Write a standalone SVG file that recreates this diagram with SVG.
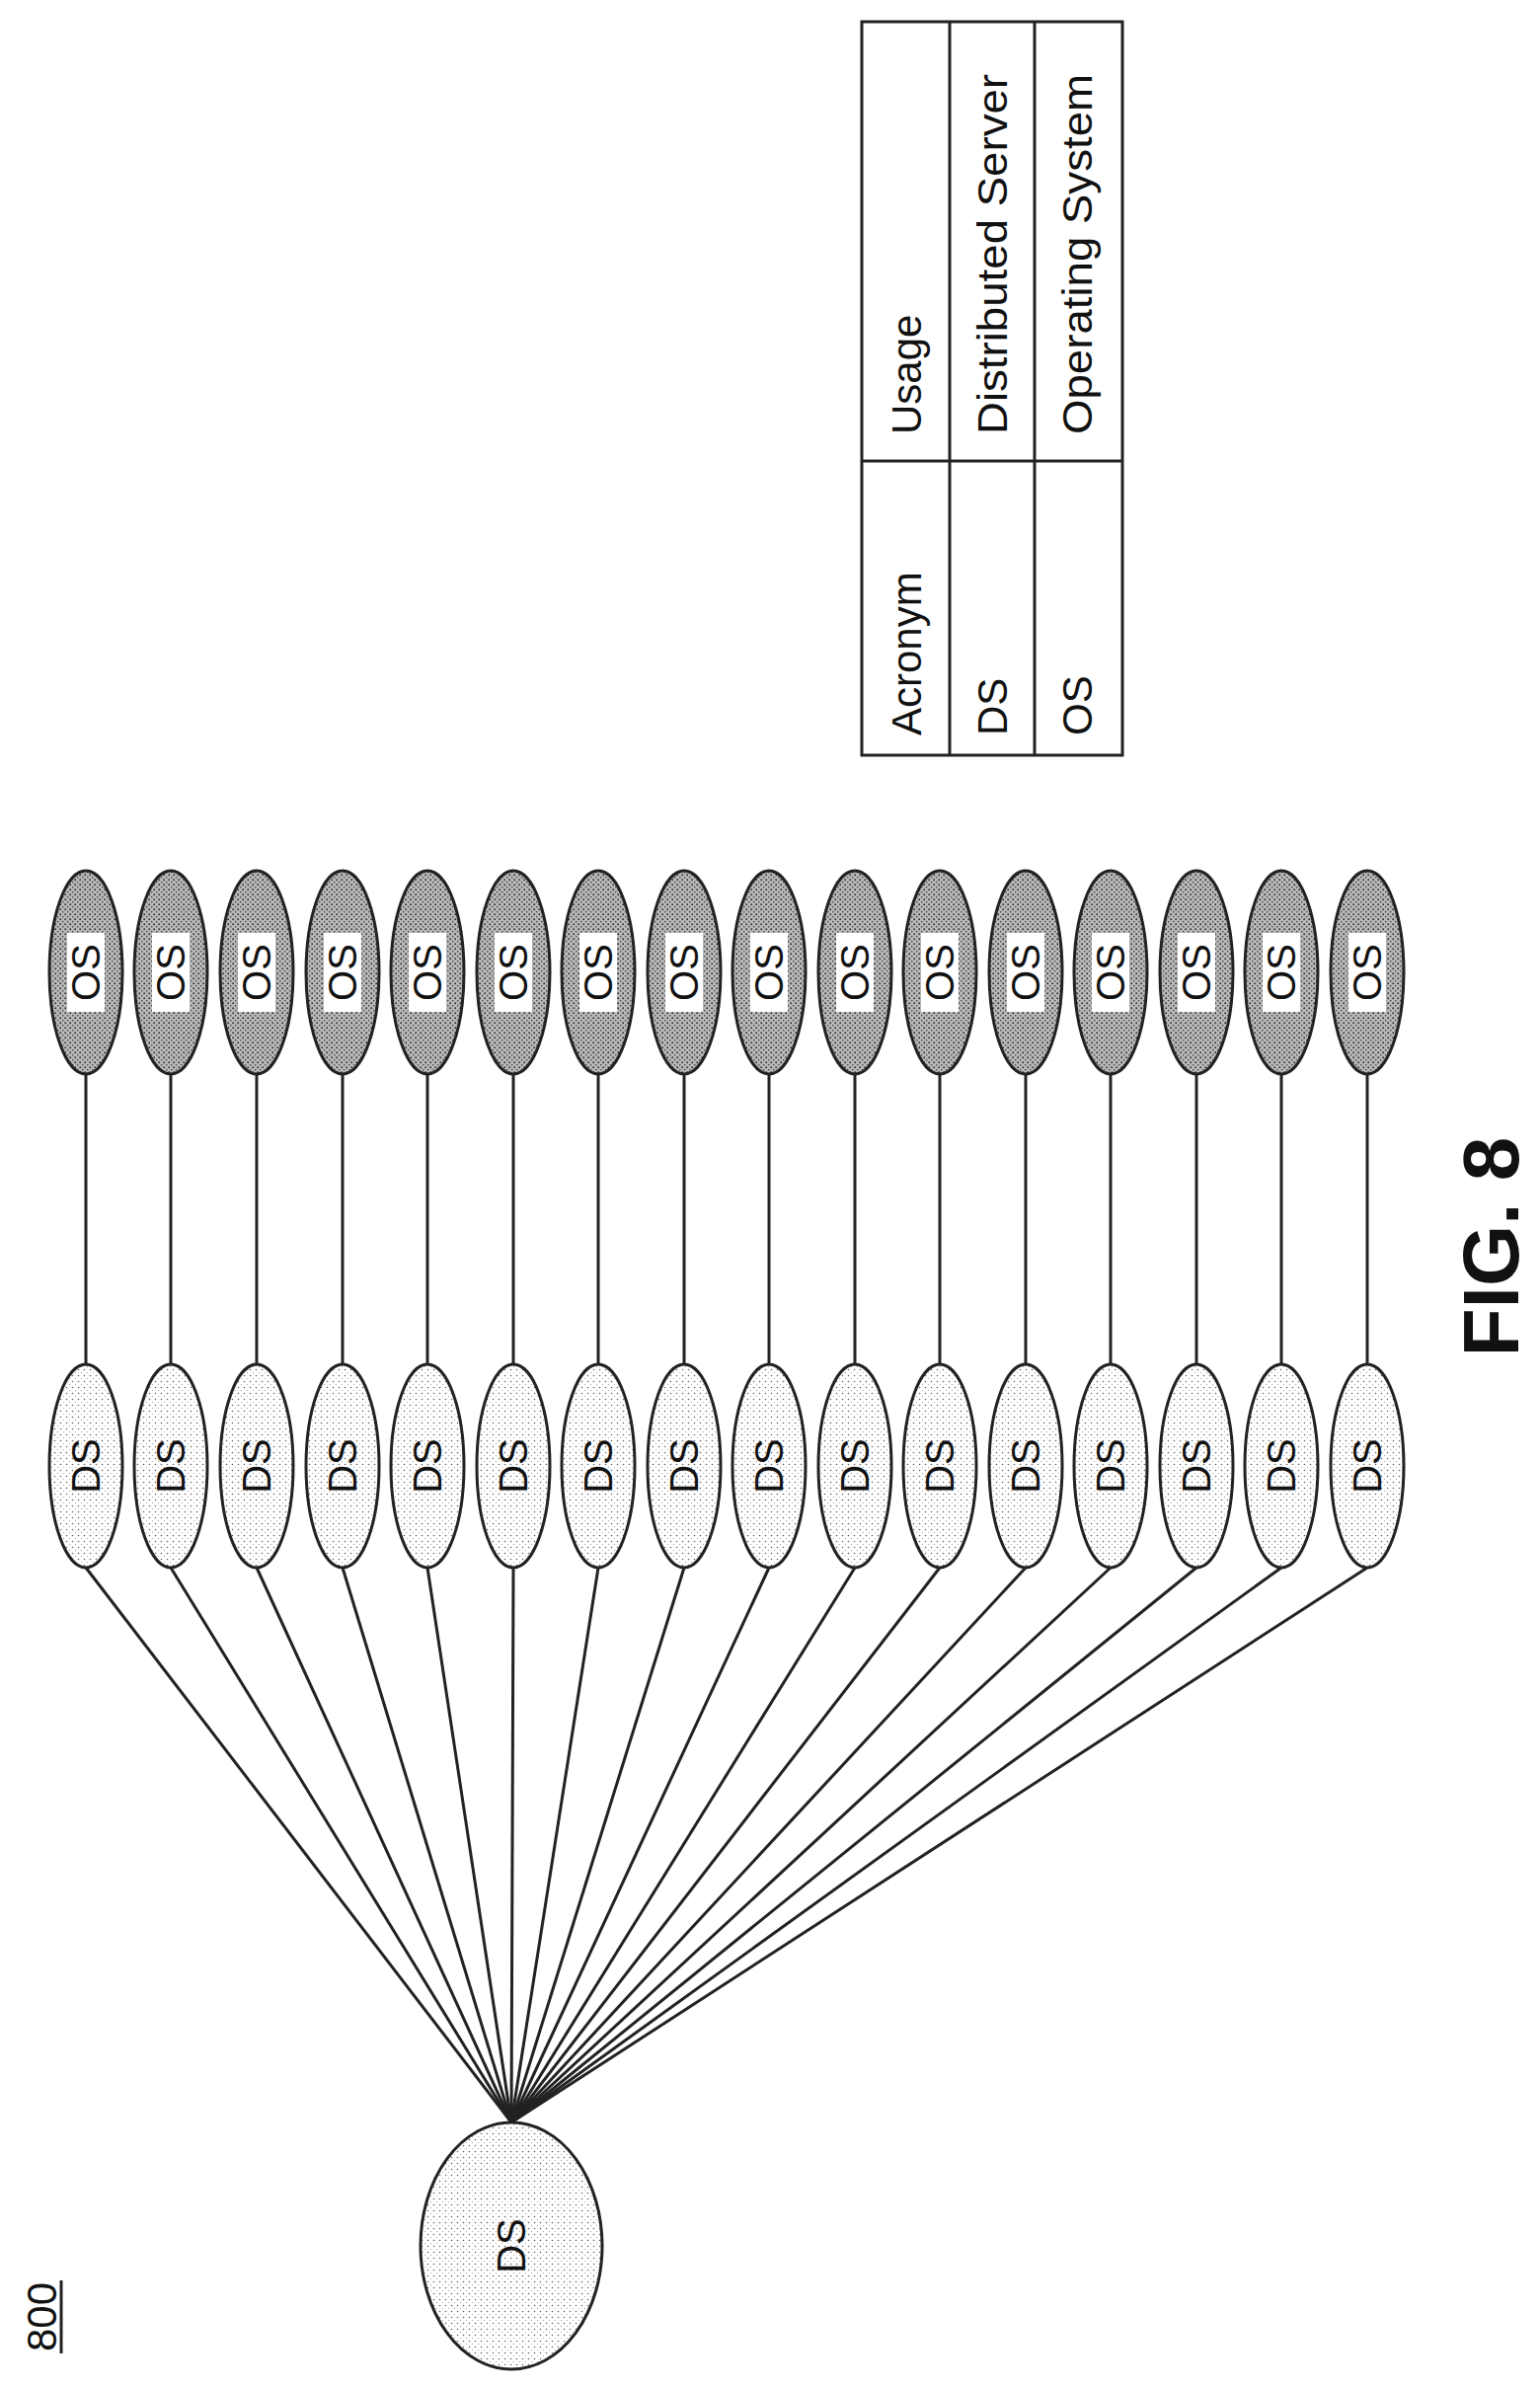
<svg xmlns="http://www.w3.org/2000/svg" width="1560" height="2419" viewBox="0 0 1560 2419">
<defs>
<pattern id="lt" width="6" height="6" patternUnits="userSpaceOnUse"><rect width="6" height="6" fill="#fff"/><circle cx="1.5" cy="1.5" r="0.8" fill="#666"/><circle cx="4.5" cy="4.5" r="0.6" fill="#999"/></pattern>
<pattern id="dk" width="5" height="5" patternUnits="userSpaceOnUse"><rect width="5" height="5" fill="#bbb"/><circle cx="1.2" cy="1.2" r="1" fill="#333"/><circle cx="3.7" cy="3.7" r="0.9" fill="#555"/></pattern>
<style>
.ds{fill:url(#lt);stroke:#222;stroke-width:3}
.os{fill:url(#dk);stroke:#222;stroke-width:3}
.t{font-family:"Liberation Sans",Arial,sans-serif;font-size:40px;fill:#111;text-anchor:middle;dominant-baseline:central}
.tb{font-family:"Liberation Sans",Arial,sans-serif;font-size:42px;fill:#111}
line,.ln{stroke:#222;stroke-width:3;fill:none}
</style>
</defs>
<g id="label800"><text class="tb" transform="rotate(-90 57 2347)" x="57" y="2347" text-anchor="middle" font-size="40">800</text><line x1="62" y1="2310" x2="62" y2="2384"/></g>
<g id="connectors">
<line x1="87" y1="1088" x2="87" y2="1382"/><line x1="173" y1="1088" x2="173" y2="1382"/><line x1="260" y1="1088" x2="260" y2="1382"/><line x1="347" y1="1088" x2="347" y2="1382"/><line x1="433" y1="1088" x2="433" y2="1382"/><line x1="520" y1="1088" x2="520" y2="1382"/><line x1="606" y1="1088" x2="606" y2="1382"/><line x1="693" y1="1088" x2="693" y2="1382"/><line x1="779" y1="1088" x2="779" y2="1382"/><line x1="866" y1="1088" x2="866" y2="1382"/><line x1="952" y1="1088" x2="952" y2="1382"/><line x1="1039" y1="1088" x2="1039" y2="1382"/><line x1="1125" y1="1088" x2="1125" y2="1382"/><line x1="1212" y1="1088" x2="1212" y2="1382"/><line x1="1298" y1="1088" x2="1298" y2="1382"/><line x1="1385" y1="1088" x2="1385" y2="1382"/>
<line x1="87" y1="1588" x2="518" y2="2150"/><line x1="173" y1="1588" x2="518" y2="2150"/><line x1="260" y1="1588" x2="518" y2="2150"/><line x1="347" y1="1588" x2="518" y2="2150"/><line x1="433" y1="1588" x2="518" y2="2150"/><line x1="520" y1="1588" x2="518" y2="2150"/><line x1="606" y1="1588" x2="518" y2="2150"/><line x1="693" y1="1588" x2="518" y2="2150"/><line x1="779" y1="1588" x2="518" y2="2150"/><line x1="866" y1="1588" x2="518" y2="2150"/><line x1="952" y1="1588" x2="518" y2="2150"/><line x1="1039" y1="1588" x2="518" y2="2150"/><line x1="1125" y1="1588" x2="518" y2="2150"/><line x1="1212" y1="1588" x2="518" y2="2150"/><line x1="1298" y1="1588" x2="518" y2="2150"/><line x1="1385" y1="1588" x2="518" y2="2150"/>
</g>
<g id="root"><ellipse class="ds" cx="518" cy="2275" rx="92" ry="125"/><text class="t" transform="rotate(-90 518 2275)" x="518" y="2275">DS</text></g>
<g id="ds-nodes">
<g id="ds1"><ellipse class="ds" cx="87" cy="1485" rx="37" ry="103"/><text class="t" transform="rotate(-90 87 1485)" x="87" y="1485">DS</text></g>
<g id="ds2"><ellipse class="ds" cx="173" cy="1485" rx="37" ry="103"/><text class="t" transform="rotate(-90 173 1485)" x="173" y="1485">DS</text></g>
<g id="ds3"><ellipse class="ds" cx="260" cy="1485" rx="37" ry="103"/><text class="t" transform="rotate(-90 260 1485)" x="260" y="1485">DS</text></g>
<g id="ds4"><ellipse class="ds" cx="347" cy="1485" rx="37" ry="103"/><text class="t" transform="rotate(-90 347 1485)" x="347" y="1485">DS</text></g>
<g id="ds5"><ellipse class="ds" cx="433" cy="1485" rx="37" ry="103"/><text class="t" transform="rotate(-90 433 1485)" x="433" y="1485">DS</text></g>
<g id="ds6"><ellipse class="ds" cx="520" cy="1485" rx="37" ry="103"/><text class="t" transform="rotate(-90 520 1485)" x="520" y="1485">DS</text></g>
<g id="ds7"><ellipse class="ds" cx="606" cy="1485" rx="37" ry="103"/><text class="t" transform="rotate(-90 606 1485)" x="606" y="1485">DS</text></g>
<g id="ds8"><ellipse class="ds" cx="693" cy="1485" rx="37" ry="103"/><text class="t" transform="rotate(-90 693 1485)" x="693" y="1485">DS</text></g>
<g id="ds9"><ellipse class="ds" cx="779" cy="1485" rx="37" ry="103"/><text class="t" transform="rotate(-90 779 1485)" x="779" y="1485">DS</text></g>
<g id="ds10"><ellipse class="ds" cx="866" cy="1485" rx="37" ry="103"/><text class="t" transform="rotate(-90 866 1485)" x="866" y="1485">DS</text></g>
<g id="ds11"><ellipse class="ds" cx="952" cy="1485" rx="37" ry="103"/><text class="t" transform="rotate(-90 952 1485)" x="952" y="1485">DS</text></g>
<g id="ds12"><ellipse class="ds" cx="1039" cy="1485" rx="37" ry="103"/><text class="t" transform="rotate(-90 1039 1485)" x="1039" y="1485">DS</text></g>
<g id="ds13"><ellipse class="ds" cx="1125" cy="1485" rx="37" ry="103"/><text class="t" transform="rotate(-90 1125 1485)" x="1125" y="1485">DS</text></g>
<g id="ds14"><ellipse class="ds" cx="1212" cy="1485" rx="37" ry="103"/><text class="t" transform="rotate(-90 1212 1485)" x="1212" y="1485">DS</text></g>
<g id="ds15"><ellipse class="ds" cx="1298" cy="1485" rx="37" ry="103"/><text class="t" transform="rotate(-90 1298 1485)" x="1298" y="1485">DS</text></g>
<g id="ds16"><ellipse class="ds" cx="1385" cy="1485" rx="37" ry="103"/><text class="t" transform="rotate(-90 1385 1485)" x="1385" y="1485">DS</text></g>
</g>
<g id="os-nodes">
<g id="os1"><ellipse class="os" cx="87" cy="985" rx="37" ry="103"/><rect x="68" y="945" width="38" height="80" fill="#fff"/><text class="t" transform="rotate(-90 87 985)" x="87" y="985">OS</text></g>
<g id="os2"><ellipse class="os" cx="173" cy="985" rx="37" ry="103"/><rect x="154" y="945" width="38" height="80" fill="#fff"/><text class="t" transform="rotate(-90 173 985)" x="173" y="985">OS</text></g>
<g id="os3"><ellipse class="os" cx="260" cy="985" rx="37" ry="103"/><rect x="241" y="945" width="38" height="80" fill="#fff"/><text class="t" transform="rotate(-90 260 985)" x="260" y="985">OS</text></g>
<g id="os4"><ellipse class="os" cx="347" cy="985" rx="37" ry="103"/><rect x="328" y="945" width="38" height="80" fill="#fff"/><text class="t" transform="rotate(-90 347 985)" x="347" y="985">OS</text></g>
<g id="os5"><ellipse class="os" cx="433" cy="985" rx="37" ry="103"/><rect x="414" y="945" width="38" height="80" fill="#fff"/><text class="t" transform="rotate(-90 433 985)" x="433" y="985">OS</text></g>
<g id="os6"><ellipse class="os" cx="520" cy="985" rx="37" ry="103"/><rect x="501" y="945" width="38" height="80" fill="#fff"/><text class="t" transform="rotate(-90 520 985)" x="520" y="985">OS</text></g>
<g id="os7"><ellipse class="os" cx="606" cy="985" rx="37" ry="103"/><rect x="587" y="945" width="38" height="80" fill="#fff"/><text class="t" transform="rotate(-90 606 985)" x="606" y="985">OS</text></g>
<g id="os8"><ellipse class="os" cx="693" cy="985" rx="37" ry="103"/><rect x="674" y="945" width="38" height="80" fill="#fff"/><text class="t" transform="rotate(-90 693 985)" x="693" y="985">OS</text></g>
<g id="os9"><ellipse class="os" cx="779" cy="985" rx="37" ry="103"/><rect x="760" y="945" width="38" height="80" fill="#fff"/><text class="t" transform="rotate(-90 779 985)" x="779" y="985">OS</text></g>
<g id="os10"><ellipse class="os" cx="866" cy="985" rx="37" ry="103"/><rect x="847" y="945" width="38" height="80" fill="#fff"/><text class="t" transform="rotate(-90 866 985)" x="866" y="985">OS</text></g>
<g id="os11"><ellipse class="os" cx="952" cy="985" rx="37" ry="103"/><rect x="933" y="945" width="38" height="80" fill="#fff"/><text class="t" transform="rotate(-90 952 985)" x="952" y="985">OS</text></g>
<g id="os12"><ellipse class="os" cx="1039" cy="985" rx="37" ry="103"/><rect x="1020" y="945" width="38" height="80" fill="#fff"/><text class="t" transform="rotate(-90 1039 985)" x="1039" y="985">OS</text></g>
<g id="os13"><ellipse class="os" cx="1125" cy="985" rx="37" ry="103"/><rect x="1106" y="945" width="38" height="80" fill="#fff"/><text class="t" transform="rotate(-90 1125 985)" x="1125" y="985">OS</text></g>
<g id="os14"><ellipse class="os" cx="1212" cy="985" rx="37" ry="103"/><rect x="1193" y="945" width="38" height="80" fill="#fff"/><text class="t" transform="rotate(-90 1212 985)" x="1212" y="985">OS</text></g>
<g id="os15"><ellipse class="os" cx="1298" cy="985" rx="37" ry="103"/><rect x="1279" y="945" width="38" height="80" fill="#fff"/><text class="t" transform="rotate(-90 1298 985)" x="1298" y="985">OS</text></g>
<g id="os16"><ellipse class="os" cx="1385" cy="985" rx="37" ry="103"/><rect x="1366" y="945" width="38" height="80" fill="#fff"/><text class="t" transform="rotate(-90 1385 985)" x="1385" y="985">OS</text></g>
</g>
<g id="fig"><text transform="rotate(-90 1538 1263)" x="1538" y="1263" text-anchor="middle" font-family="'Liberation Sans',Arial,sans-serif" font-weight="bold" font-size="80" fill="#111">FIG. 8</text></g>
<g id="table">
<rect class="ln" x="873" y="22" width="264" height="743" fill="#fff"/>
<line x1="962" y1="22" x2="962" y2="765"/><line x1="1048" y1="22" x2="1048" y2="765"/><line x1="873" y1="467" x2="1137" y2="467"/>
<text class="tb" transform="rotate(-90 933 745)" x="933" y="745">Acronym</text>
<text class="tb" transform="rotate(-90 933 440)" x="933" y="440">Usage</text>
<text class="tb" transform="rotate(-90 1020 745)" x="1020" y="745">DS</text>
<text class="tb" transform="rotate(-90 1020 440)" x="1020" y="440" textLength="365" lengthAdjust="spacingAndGlyphs">Distributed Server</text>
<text class="tb" transform="rotate(-90 1106 745)" x="1106" y="745">OS</text>
<text class="tb" transform="rotate(-90 1106 440)" x="1106" y="440" textLength="365" lengthAdjust="spacingAndGlyphs">Operating System</text>
</g>
</svg>
